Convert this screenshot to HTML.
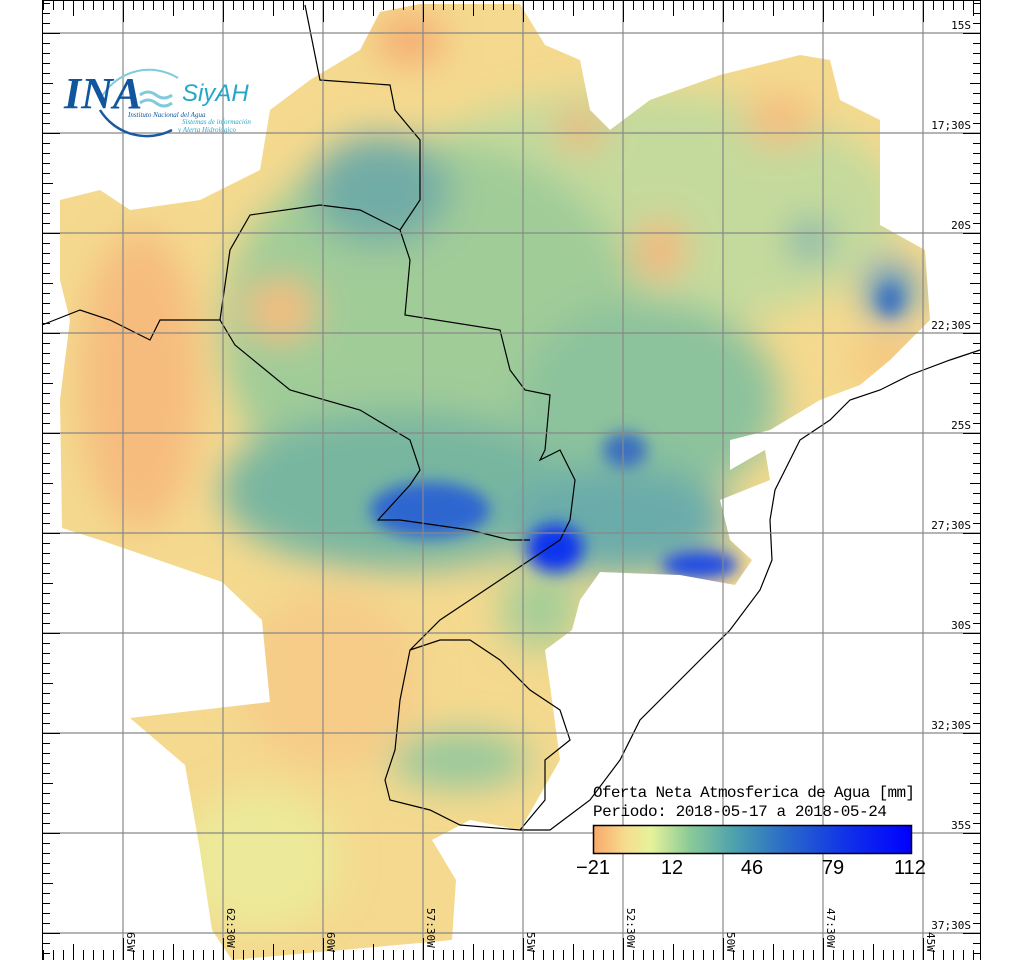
<!DOCTYPE html>
<html><head><meta charset="utf-8"><style>
html,body{margin:0;padding:0;background:#fff;}
svg{display:block;}
</style></head><body>
<svg width="1024" height="960" viewBox="0 0 1024 960" xmlns="http://www.w3.org/2000/svg">
<defs>
<filter id="b" x="-20%" y="-20%" width="140%" height="140%"><feGaussianBlur stdDeviation="18"/></filter>
<filter id="b2" x="-20%" y="-20%" width="140%" height="140%"><feGaussianBlur stdDeviation="8"/></filter>
<clipPath id="reg"><path d="M60,200 L100,190 L130,210 L200,200 L260,170 L270,110 L310,80 L360,50 L380,12 L420,4 L520,4 L545,45 L580,60 L590,110 L610,130 L650,100 L720,75 L800,55 L830,60 L840,100 L880,120 L880,225 L925,250 L930,320 L890,360 L860,385 L820,400 L770,430 L730,440 L730,470 L765,450 L770,480 L720,500 L730,540 L752,560 L735,585 L680,575 L600,572 L580,600 L572,630 L545,650 L552,700 L560,760 L520,830 L470,820 L432,840 L456,880 L452,940 L232,960 L212,930 L200,850 L185,765 L130,718 L270,702 L262,620 L222,582 L100,540 L62,528 L60,400 L70,320 L60,280 Z"/></clipPath>
<linearGradient id="cbar" x1="0" x2="1">
<stop offset="0" stop-color="#f9a86a"/><stop offset="0.1" stop-color="#f6dc8e"/><stop offset="0.18" stop-color="#e6f29a"/><stop offset="0.3" stop-color="#8ccb98"/><stop offset="0.45" stop-color="#4a9fae"/><stop offset="0.6" stop-color="#2a6cc8"/><stop offset="0.8" stop-color="#1030ea"/><stop offset="1" stop-color="#0000ff"/>
</linearGradient>
<pattern id="pv" x="3" y="0" width="10" height="10" patternUnits="userSpaceOnUse"><line x1="0.5" y1="0" x2="0.5" y2="10" stroke="#000" stroke-width="1"/></pattern>
<pattern id="ph" x="0" y="3" width="10" height="10" patternUnits="userSpaceOnUse"><line x1="0" y1="0.5" x2="10" y2="0.5" stroke="#000" stroke-width="1"/></pattern>
</defs>
<g clip-path="url(#reg)">
<rect x="0" y="0" width="1024" height="960" fill="#f4d98e"/>
<g filter="url(#b)">
<ellipse cx="140" cy="380" rx="60" ry="150" fill="#f6bc7e"/>
<ellipse cx="330" cy="680" rx="90" ry="90" fill="#f6cc88"/>
<ellipse cx="260" cy="860" rx="80" ry="70" fill="#ecea9a"/>
<ellipse cx="640" cy="210" rx="260" ry="120" fill="#c4da9c"/>
<ellipse cx="430" cy="330" rx="210" ry="190" fill="#a0cc98"/>
<ellipse cx="400" cy="490" rx="180" ry="80" fill="#78b6a0"/>
<ellipse cx="380" cy="190" rx="70" ry="55" fill="#72aca6"/>
<ellipse cx="650" cy="400" rx="130" ry="100" fill="#8cc29c"/>
<ellipse cx="620" cy="520" rx="110" ry="55" fill="#6aacaa"/>
<ellipse cx="540" cy="610" rx="40" ry="40" fill="#a6ce98"/>
<ellipse cx="460" cy="760" rx="70" ry="28" fill="#96c89c"/>
<ellipse cx="410" cy="40" rx="35" ry="25" fill="#f6ac72"/>
<ellipse cx="580" cy="130" rx="22" ry="18" fill="#f6ac72"/>
<ellipse cx="660" cy="250" rx="25" ry="30" fill="#f6b47a"/>
<ellipse cx="280" cy="310" rx="35" ry="30" fill="#f6bc7e"/>
<ellipse cx="780" cy="120" rx="35" ry="25" fill="#f6bc7e"/>
<ellipse cx="890" cy="290" rx="25" ry="30" fill="#5090c4"/>
<ellipse cx="810" cy="240" rx="20" ry="20" fill="#6aaab0"/>
<ellipse cx="890" cy="360" rx="40" ry="20" fill="#f6c47c"/>
</g>
<g filter="url(#b2)">
<ellipse cx="430" cy="510" rx="60" ry="28" fill="#2e66d0"/>
<ellipse cx="555" cy="548" rx="28" ry="24" fill="#0a34ee"/>
<ellipse cx="700" cy="565" rx="38" ry="14" fill="#1c48e4"/>
<ellipse cx="625" cy="450" rx="22" ry="18" fill="#3a70c0"/>
<ellipse cx="890" cy="300" rx="12" ry="16" fill="#3a70c0"/>
</g>
</g>
<g fill="none" stroke="#000" stroke-width="1.2">
<path d="M980,350 L950,360 L910,375 L880,390 L850,400 L830,420 L800,440 L790,460 L775,490 L770,520 L772,560 L760,590 L730,630 L700,660 L670,690 L640,720 L620,760 L590,800 L550,830 L520,830"/>
<path d="M305,5 L310,30 L320,80 L390,85 L395,110 L420,140 L420,200 L400,230 L410,260 L405,315 L500,330 L510,370 L525,390 L550,395 L545,450 L540,460 L560,450 L575,480 L570,520 L560,540 L530,560 L500,580 L470,600 L440,620 L410,650 L400,700 L395,750 L385,780 L390,800 L430,810 L460,825 L520,830 L545,800 L545,760 L570,740 L560,710 L530,690 L500,660 L470,640 L440,640 L410,650"/>
<path d="M42,325 L80,310 L110,320 L150,340 L160,320 L220,320 L235,345 L290,390 L360,410 L410,440 L420,470 L410,485 L378,520 L400,520 L470,530 L510,540 L530,540"/>
<path d="M220,320 L230,250 L250,215 L320,205 L360,210 L400,230"/>
</g>
<g stroke="#888" stroke-width="1.2">
<line x1="123" y1="0" x2="123" y2="960"/><line x1="223" y1="0" x2="223" y2="960"/><line x1="323" y1="0" x2="323" y2="960"/><line x1="423" y1="0" x2="423" y2="960"/><line x1="523" y1="0" x2="523" y2="960"/><line x1="623" y1="0" x2="623" y2="960"/><line x1="723" y1="0" x2="723" y2="960"/><line x1="823" y1="0" x2="823" y2="960"/><line x1="923" y1="0" x2="923" y2="960"/>
<line x1="42" y1="33" x2="980" y2="33"/><line x1="42" y1="133" x2="980" y2="133"/><line x1="42" y1="233" x2="980" y2="233"/><line x1="42" y1="333" x2="980" y2="333"/><line x1="42" y1="433" x2="980" y2="433"/><line x1="42" y1="533" x2="980" y2="533"/><line x1="42" y1="633" x2="980" y2="633"/><line x1="42" y1="733" x2="980" y2="733"/><line x1="42" y1="833" x2="980" y2="833"/><line x1="42" y1="933" x2="980" y2="933"/>
</g>
<rect x="43" y="0" width="937" height="10" fill="url(#pv)"/>
<rect x="43" y="950" width="937" height="10" fill="url(#pv)"/>
<rect x="43" y="0" width="7" height="960" fill="url(#ph)"/>
<rect x="973" y="0" width="7" height="960" fill="url(#ph)"/>
<g stroke="#000" stroke-width="1">
<line x1="42.5" y1="0" x2="42.5" y2="960"/><line x1="980.5" y1="0" x2="980.5" y2="960"/><line x1="42" y1="0.5" x2="981" y2="0.5"/>
<path d="M123.5,0v22M223.5,0v22M323.5,0v22M423.5,0v22M523.5,0v22M623.5,0v22M723.5,0v22M823.5,0v22M923.5,0v22M73.5,0v16M173.5,0v16M273.5,0v16M373.5,0v16M473.5,0v16M573.5,0v16M673.5,0v16M773.5,0v16M873.5,0v16M973.5,0v16"/>
<path d="M123.5,960v-22M223.5,960v-22M323.5,960v-22M423.5,960v-22M523.5,960v-22M623.5,960v-22M723.5,960v-22M823.5,960v-22M923.5,960v-22M73.5,960v-16M173.5,960v-16M273.5,960v-16M373.5,960v-16M473.5,960v-16M573.5,960v-16M673.5,960v-16M773.5,960v-16M873.5,960v-16"/>
<path d="M43,33.5h17M43,133.5h17M43,233.5h17M43,333.5h17M43,433.5h17M43,533.5h17M43,633.5h17M43,733.5h17M43,833.5h17M43,933.5h17M43,83.5h10M43,183.5h10M43,283.5h10M43,383.5h10M43,483.5h10M43,583.5h10M43,683.5h10M43,783.5h10M43,883.5h10"/>
<path d="M980,33.5h-17M980,133.5h-17M980,233.5h-17M980,333.5h-17M980,433.5h-17M980,533.5h-17M980,633.5h-17M980,733.5h-17M980,833.5h-17M980,933.5h-17M980,83.5h-10M980,183.5h-10M980,283.5h-10M980,383.5h-10M980,483.5h-10M980,583.5h-10M980,683.5h-10M980,783.5h-10M980,883.5h-10"/>
</g>
<g font-family="'DejaVu Sans Mono',monospace" font-size="11" fill="#000" text-anchor="end">
<text x="971" y="29">15S</text><text x="971" y="129">17;30S</text><text x="971" y="229">20S</text><text x="971" y="329">22;30S</text><text x="971" y="429">25S</text><text x="971" y="529">27;30S</text><text x="971" y="629">30S</text><text x="971" y="729">32;30S</text><text x="971" y="829">35S</text><text x="971" y="929">37;30S</text>
</g>
<g font-family="'DejaVu Sans Mono',monospace" font-size="11" fill="#000">
<text transform="translate(127,932) rotate(90)">65W</text>
<text transform="translate(227,908) rotate(90)">62:30W</text>
<text transform="translate(327,932) rotate(90)">60W</text>
<text transform="translate(427,908) rotate(90)">57:30W</text>
<text transform="translate(527,932) rotate(90)">55W</text>
<text transform="translate(627,908) rotate(90)">52:30W</text>
<text transform="translate(727,932) rotate(90)">50W</text>
<text transform="translate(827,908) rotate(90)">47:30W</text>
<text transform="translate(927,932) rotate(90)">45W</text>
</g>
<g font-family="'Liberation Mono',monospace" font-size="16" fill="#000">
<text x="593" y="797" textLength="322">Oferta Neta Atmosferica de Agua [mm]</text>
<text x="593" y="816" textLength="294">Periodo: 2018-05-17 a 2018-05-24</text>
</g>
<rect x="593.5" y="825.5" width="318" height="28" fill="url(#cbar)" stroke="#000" stroke-width="1.5"/>
<g font-family="'Liberation Sans',sans-serif" font-size="20" fill="#000" text-anchor="middle">
<text x="593" y="874">−21</text><text x="672" y="874">12</text><text x="752" y="874">46</text><text x="833" y="874">79</text><text x="910" y="874">112</text>
</g>
<g>
<path d="M100,100 A55,55 0 0 1 178,78" fill="none" stroke="#7fcbdc" stroke-width="2"/>
<path d="M100,110 A55,55 0 0 0 172,130" fill="none" stroke="#1a5aa0" stroke-width="2.5"/>
<text x="64" y="108" font-family="'Liberation Serif',serif" font-style="italic" font-weight="bold" font-size="44" fill="#10569e">INA</text>
<path d="M140,95 q8,-6 16,0 t16,0 M140,103 q8,-6 16,0 t16,0" fill="none" stroke="#7fcbdc" stroke-width="3"/>
<text x="182" y="101" font-family="'Liberation Sans',sans-serif" font-style="italic" font-size="24" fill="#25a7c8">SiyAH</text>
<text x="128" y="117" font-family="'Liberation Serif',serif" font-style="italic" font-size="7" fill="#10569e">Instituto Nacional del Agua</text>
<text x="182" y="124" font-family="'Liberation Serif',serif" font-style="italic" font-size="7" fill="#25a7c8">Sistemas de información</text>
<text x="178" y="132" font-family="'Liberation Serif',serif" font-style="italic" font-size="7" fill="#25a7c8">y Alerta Hidrológico</text>
</g>
</svg>
</body></html>
